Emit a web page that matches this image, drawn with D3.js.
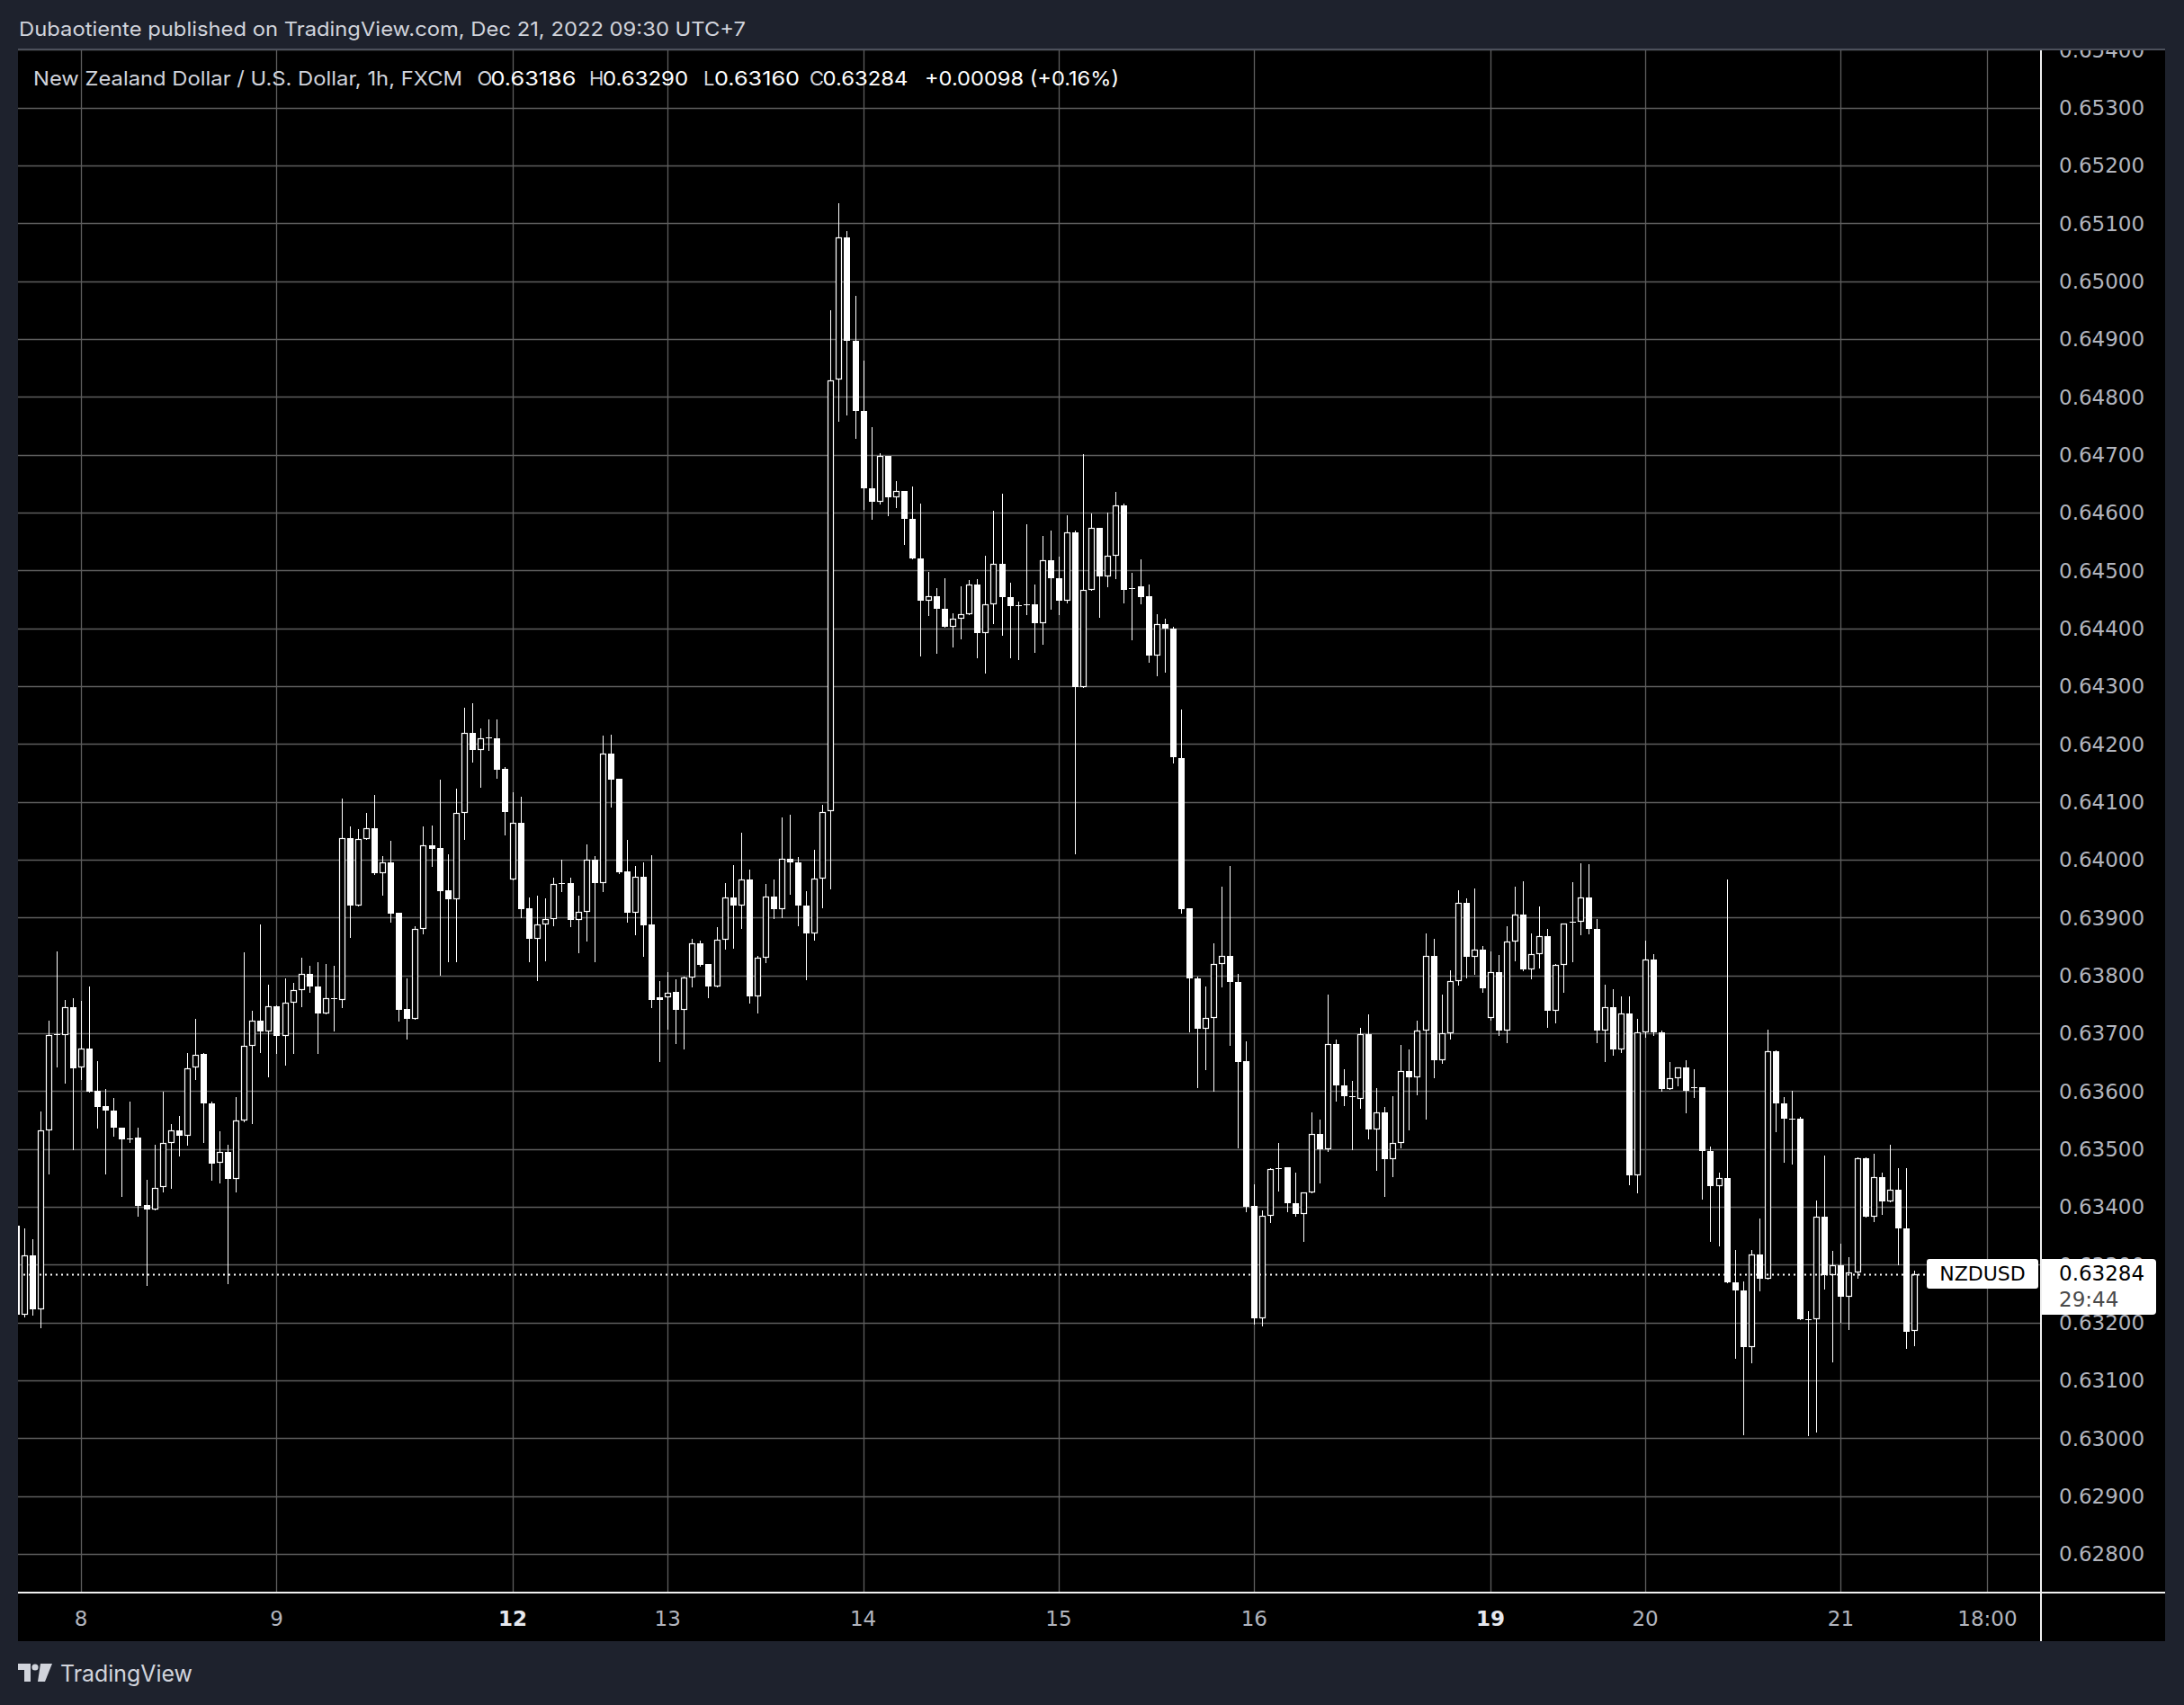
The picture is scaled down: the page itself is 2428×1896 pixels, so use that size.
<!DOCTYPE html>
<html><head><meta charset="utf-8">
<script src="https://cdn.jsdelivr.net/npm/d3@7/dist/d3.min.js"></script>
<style>html,body{margin:0;padding:0;background:#1e222d;}svg{display:block;}</style>
</head><body>
<script>
const openP = [
.63368,.63214,.63316,.63222,.63532,.63697,.63697,.63745,.63641,.63673,
.63600,.63574,.63566,.63536,.63518,.63519,.63403,.63395,.63434,.63511,
.63532,.63523,.63641,.63664,.63579,.63476,.63495,.63448,.63549,.63678,
.63721,.63703,.63746,.63695,.63752,.63775,.63803,.63781,.63734,.63760,
.63758,.64037,.63921,.64036,.64054,.63976,.63996,.63908,.63742,.63724,
.63880,.64024,.64020,.63947,.63932,.64080,.64219,.64189,.64210,.64210,
.64157,.63965,.64063,.63916,.63863,.63888,.63898,.63959,.63960,.63896,
.63909,.64000,.63960,.64184,.64140,.63979,.63908,.63971,.63888,.63762,
.63762,.63771,.63740,.63796,.63856,.63819,.63781,.63861,.63934,.63920,
.63966,.63764,.63830,.63936,.63915,.64002,.63996,.63920,.63872,.63968,
.64084,.64830,.65076,.64897,.64775,.64642,.64619,.64698,.64626,.64638,
.64589,.64520,.64448,.64455,.64434,.64402,.64417,.64425,.64475,.64391,
.64441,.64511,.64454,.64440,.64440,.64441,.64409,.64517,.64487,.64447,
.64566,.64298,.64467,.64574,.64489,.64526,.64613,.64470,.64472,.64455,
.64353,.64407,.64400,.64176,.63916,.63794,.63707,.63727,.63820,.63833,
.63788,.63652,.63402,.63207,.63385,.63465,.63469,.63406,.63388,.63424,
.63526,.63499,.63682,.63610,.63591,.63587,.63699,.63534,.63563,.63483,
.63510,.63634,.63623,.63705,.63834,.63654,.63700,.63790,.63926,.63832,
.63844,.63727,.63806,.63704,.63859,.63905,.63811,.63836,.63867,.63738,
.63818,.63893,.63893,.63935,.63880,.63704,.63745,.63672,.63734,.63455,
.63702,.63828,.63702,.63603,.63622,.63641,.63605,.63607,.63496,.63435,
.63449,.63270,.63256,.63157,.63318,.63276,.63669,.63579,.63552,.63552,
.63206,.63205,.63383,.63281,.63299,.63245,.63287,.63484,.63383,.63451,
.63409,.63429,.63363,.63186];
const highP = [
.63372,.63362,.63344,.63565,.63722,.63841,.63758,.63761,.63756,.63781,
.63652,.63604,.63588,.63536,.63582,.63536,.63446,.63507,.63599,.63543,
.63557,.63665,.63724,.63665,.63582,.63530,.63507,.63590,.63840,.63739,
.63888,.63784,.63748,.63795,.63787,.63831,.63816,.63822,.63819,.63817,
.64105,.64058,.64053,.64081,.64112,.64006,.64032,.63908,.63794,.63885,
.64057,.64059,.64138,.64009,.64122,.64262,.64270,.64227,.64242,.64242,
.64160,.64116,.64109,.63934,.63938,.63933,.63969,.64000,.63969,.63938,
.64027,.64006,.64215,.64216,.64140,.64034,.63989,.63995,.64007,.63790,
.63806,.63793,.63798,.63863,.63860,.63819,.63883,.63959,.63990,.64047,
.63983,.63833,.63958,.63965,.64073,.64077,.64004,.63946,.64017,.64094,
.64950,.65135,.65087,.64974,.64862,.64748,.64703,.64698,.64654,.64638,
.64645,.64616,.64498,.64470,.64487,.64426,.64472,.64484,.64485,.64525,
.64603,.64632,.64478,.64446,.64579,.64475,.64560,.64569,.64523,.64596,
.64569,.64701,.64598,.64574,.64600,.64636,.64616,.64496,.64519,.64475,
.64424,.64417,.64403,.64260,.63916,.63798,.63780,.63855,.63953,.63989,
.63802,.63686,.63439,.63393,.63467,.63510,.63469,.63459,.63424,.63563,
.63550,.63767,.63689,.63638,.63617,.63709,.63732,.63605,.63572,.63591,
.63679,.63672,.63722,.63872,.63863,.63767,.63808,.63947,.63933,.63950,
.63850,.63841,.63835,.63885,.63953,.63963,.63872,.63919,.63880,.63820,
.63890,.63961,.63993,.63992,.63897,.63784,.63776,.63764,.63764,.63724,
.63860,.63836,.63704,.63650,.63641,.63654,.63638,.63607,.63504,.63459,
.63965,.63326,.63271,.63326,.63379,.63706,.63671,.63589,.63601,.63555,
.63220,.63410,.63489,.63323,.63336,.63313,.63486,.63486,.63492,.63459,
.63507,.63467,.63467,.63290];
const lowP = [
.63205,.63210,.63214,.63191,.63458,.63643,.63615,.63500,.63621,.63599,
.63536,.63458,.63523,.63418,.63512,.63384,.63264,.63395,.63426,.63432,
.63489,.63507,.63621,.63512,.63446,.63442,.63267,.63427,.63547,.63545,
.63668,.63625,.63665,.63646,.63665,.63746,.63772,.63665,.63734,.63704,
.63745,.63866,.63921,.64036,.63975,.63940,.63893,.63722,.63690,.63724,
.63872,.63989,.63801,.63824,.63825,.64035,.64170,.64126,.64189,.64142,
.64044,.63965,.63900,.63824,.63792,.63826,.63887,.63945,.63885,.63840,
.63860,.63824,.63945,.64091,.63977,.63893,.63871,.63834,.63745,.63652,
.63708,.63683,.63674,.63781,.63817,.63762,.63780,.63846,.63848,.63881,
.63752,.63735,.63822,.63899,.63901,.63941,.63886,.63793,.63861,.63918,
.63950,.64758,.64770,.64729,.64606,.64589,.64616,.64596,.64609,.64545,
.64520,.64352,.64422,.64358,.64402,.64369,.64383,.64425,.64349,.64323,
.64409,.64388,.64350,.64347,.64425,.64359,.64373,.64434,.64424,.64445,
.64010,.64298,.64467,.64419,.64473,.64486,.64445,.64380,.64443,.64342,
.64319,.64325,.64168,.63908,.63703,.63607,.63638,.63601,.63780,.63679,
.63503,.63392,.63198,.63194,.63373,.63428,.63392,.63384,.63341,.63424,
.63442,.63497,.63583,.63576,.63499,.63571,.63518,.63463,.63418,.63453,
.63502,.63533,.63594,.63552,.63624,.63648,.63690,.63784,.63797,.63803,
.63771,.63723,.63696,.63684,.63826,.63809,.63795,.63814,.63711,.63718,
.63771,.63824,.63871,.63872,.63684,.63651,.63662,.63667,.63438,.63424,
.63693,.63697,.63600,.63603,.63609,.63563,.63589,.63414,.63341,.63333,
.63270,.63138,.63006,.63131,.63256,.63276,.63530,.63477,.63474,.63205,
.63005,.63011,.63258,.63133,.63201,.63188,.63277,.63383,.63375,.63387,
.63409,.63300,.63156,.63160];
const closeP = [
.63214,.63316,.63222,.63532,.63697,.63699,.63745,.63640,.63673,.63599,
.63573,.63566,.63536,.63517,.63517,.63402,.63395,.63433,.63511,.63532,
.63522,.63640,.63663,.63578,.63475,.63494,.63448,.63549,.63678,.63721,
.63703,.63746,.63695,.63752,.63775,.63803,.63780,.63734,.63761,.63759,
.64037,.63921,.64036,.64054,.63976,.63996,.63906,.63741,.63724,.63880,
.64024,.64019,.63946,.63932,.64080,.64219,.64189,.64210,.64211,.64156,
.64083,.64063,.63915,.63863,.63888,.63898,.63958,.63960,.63896,.63909,
.64000,.63960,.64184,.64139,.63978,.63908,.63971,.63887,.63758,.63758,
.63770,.63740,.63796,.63856,.63818,.63781,.63861,.63934,.63920,.63966,
.63764,.63830,.63936,.63915,.64002,.63996,.63920,.63872,.63968,.64083,
.64828,.65076,.64897,.64775,.64642,.64619,.64698,.64626,.64638,.64589,
.64520,.64448,.64455,.64434,.64402,.64417,.64425,.64476,.64391,.64441,
.64511,.64454,.64439,.64438,.64441,.64409,.64517,.64487,.64447,.64566,
.64298,.64467,.64574,.64489,.64526,.64613,.64467,.64468,.64454,.64353,
.64407,.64400,.64177,.63915,.63794,.63707,.63727,.63820,.63833,.63788,
.63650,.63400,.63207,.63385,.63465,.63467,.63406,.63388,.63424,.63526,
.63499,.63682,.63610,.63591,.63590,.63699,.63534,.63563,.63483,.63510,
.63634,.63623,.63705,.63834,.63654,.63700,.63790,.63926,.63832,.63844,
.63777,.63806,.63704,.63859,.63905,.63811,.63836,.63867,.63738,.63818,
.63890,.63893,.63935,.63880,.63704,.63745,.63672,.63734,.63455,.63702,
.63828,.63702,.63603,.63622,.63641,.63600,.63606,.63496,.63435,.63449,
.63270,.63256,.63157,.63318,.63276,.63669,.63578,.63552,.63551,.63206,
.63205,.63383,.63281,.63299,.63245,.63287,.63484,.63383,.63451,.63409,
.63429,.63363,.63184,.63284];

const priceTicks = [0.628,0.629,0.630,0.631,0.632,0.633,0.634,0.635,0.636,0.637,0.638,0.639,0.640,
  0.641,0.642,0.643,0.644,0.645,0.646,0.647,0.648,0.649,0.650,0.651,0.652,0.653,0.654];
const priceTickLabels = ["0.62800","0.62900","0.63000","0.63100","0.63200","0.63300","0.63400","0.63500",
  "0.63600","0.63700","0.63800","0.63900","0.64000","0.64100","0.64200","0.64300","0.64400","0.64500",
  "0.64600","0.64700","0.64800","0.64900","0.65000","0.65100","0.65200","0.65300","0.65400"];
const timeTickBar = [8,32,61,80,104,128,152,181,200,224,242];
const timeTickLabels = ["8","9","12","13","14","15","16","19","20","21","18:00"];
const timeTickBold = [false,false,true,false,false,false,false,true,false,false,false];

const headerText = "Dubaotiente published on TradingView.com, Dec 21, 2022 09:30 UTC+7";
const symbolText = "New Zealand Dollar / U.S. Dollar, 1h, FXCM";
const ohlcLetters = ["O","H","L","C"];
const ohlcValues = ["0.63186","0.63290","0.63160","0.63284"];
const changeText = "+0.00098 (+0.16%)";
const lastPrice = 0.63284;
const lastPriceText = "0.63284";
const countdownText = "29:44";
const symbolName = "NZDUSD";

const W = 2428, H = 1896;
const paneL = 20, paneR = 2268, paneT = 56, axisY = 1770, panelR = 2407, panelB = 1825;
const FONT = "'DejaVu Sans', sans-serif";
const UIFONT = "Inter, 'Noto Sans', sans-serif";

const svg = d3.select("body").append("svg").attr("width", W).attr("height", H)
  .attr("viewBox", `0 0 ${W} ${H}`);

svg.append("rect").attr("width", W).attr("height", H).attr("fill", "#1e222d");
svg.append("rect").attr("x", paneL).attr("y", paneT).attr("width", panelR - paneL).attr("height", panelB - paneT).attr("fill", "#000");
svg.append("rect").attr("x", paneL).attr("y", paneT - 2).attr("width", panelR - paneL).attr("height", 2).attr("fill", "#4c505b");

const x = d3.scaleLinear().domain([0, 242]).range([17.64, 17.64 + 242 * 9.057]);
const y = d3.scaleLinear().domain([0.628, 0.654]).range([1727.9, 55.3]);

const defs = svg.append("defs");
defs.append("clipPath").attr("id", "pane").append("rect")
  .attr("x", paneL).attr("y", paneT).attr("width", paneR - paneL).attr("height", axisY - paneT);
defs.append("clipPath").attr("id", "paxis").append("rect")
  .attr("x", paneR).attr("y", paneT).attr("width", panelR - paneR).attr("height", axisY - paneT);

const pane = svg.append("g").attr("clip-path", "url(#pane)");
const gridColor = "#5e5e5e";
pane.append("g").selectAll("line").data(priceTicks).join("line")
  .attr("x1", paneL).attr("x2", paneR)
  .attr("y1", d => Math.round(y(d)) + 0.5).attr("y2", d => Math.round(y(d)) + 0.5)
  .attr("stroke", gridColor).attr("stroke-width", 1.3);
pane.append("g").selectAll("line").data(timeTickBar).join("line")
  .attr("x1", d => Math.round(x(d)) + 0.5).attr("x2", d => Math.round(x(d)) + 0.5)
  .attr("y1", paneT).attr("y2", axisY)
  .attr("stroke", gridColor).attr("stroke-width", 1.3);

// last price dotted line
const ly = Math.round(y(lastPrice)) + 0.5;
svg.append("line").attr("x1", paneL).attr("x2", 2142).attr("y1", ly).attr("y2", ly)
  .attr("stroke", "#fff").attr("stroke-width", 2).attr("stroke-dasharray", "2,4");

// candles
const bars = d3.range(openP.length).map(i => ({i, o: openP[i], h: highP[i], l: lowP[i], c: closeP[i]}));
const cg = pane.append("g").selectAll("g").data(bars).join("g");
cg.append("line")
  .attr("x1", d => Math.round(x(d.i)) + 0.5).attr("x2", d => Math.round(x(d.i)) + 0.5)
  .attr("y1", d => Math.round(y(d.h))).attr("y2", d => Math.round(y(d.l)) + 1)
  .attr("stroke", "#fff").attr("stroke-width", 1);
cg.each(function(d) {
  const g = d3.select(this);
  const cx = Math.round(x(d.i));
  let yt = Math.round(y(Math.max(d.o, d.c)));
  let yb = Math.round(y(Math.min(d.o, d.c)));
  if (yb - yt < 1) yb = yt + 1;
  if (d.c > d.o && yb - yt >= 3) {
    g.append("rect").attr("x", cx - 2.5).attr("y", yt + 0.5).attr("width", 6).attr("height", yb - yt - 1)
      .attr("fill", "#000").attr("stroke", "#fff").attr("stroke-width", 1.2);
  } else {
    g.append("rect").attr("x", cx - 3).attr("y", yt).attr("width", 7).attr("height", yb - yt)
      .attr("fill", "#fff");
  }
});

// separators
svg.append("rect").attr("x", paneR).attr("y", paneT).attr("width", 2).attr("height", panelB - paneT).attr("fill", "#f0f0f0");
svg.append("rect").attr("x", paneL).attr("y", axisY).attr("width", panelR - paneL).attr("height", 2).attr("fill", "#f0f0f0");

// price axis labels
const pax = svg.append("g").attr("clip-path", "url(#paxis)");
pax.selectAll("text").data(priceTicks).join("text")
  .attr("x", 2289).attr("y", d => y(d)).attr("dy", "0.36em")
  .attr("font-family", FONT).attr("font-size", 23).attr("fill", "#b2b5be")
  .text((d, i) => priceTickLabels[i]);

// time axis labels
svg.append("g").selectAll("text").data(timeTickBar).join("text")
  .attr("x", d => x(d)).attr("y", 1800).attr("dy", "0.36em").attr("text-anchor", "middle")
  .attr("font-family", FONT).attr("font-size", 23)
  .attr("font-weight", (d, i) => timeTickBold[i] ? "bold" : "normal")
  .attr("fill", (d, i) => timeTickBold[i] ? "#e6e8ee" : "#b2b5be")
  .text((d, i) => timeTickLabels[i]);

// symbol label and price box
svg.append("rect").attr("x", 2142).attr("y", 1400).attr("width", 124).attr("height", 33).attr("rx", 3).attr("fill", "#fff");
svg.append("text").attr("x", 2204).attr("y", 1416.5).attr("dy", "0.36em").attr("text-anchor", "middle")
  .attr("font-family", FONT).attr("font-size", 22).attr("fill", "#000").text(symbolName);
svg.append("path").attr("d", "M2270,1400 H2393 Q2397,1400 2397,1404 V1458 Q2397,1462 2393,1462 H2270 Z").attr("fill", "#fff");
svg.append("text").attr("x", 2289).attr("y", 1416).attr("dy", "0.36em")
  .attr("font-family", FONT).attr("font-size", 23).attr("fill", "#000").text(lastPriceText);
svg.append("text").attr("x", 2289).attr("y", 1445).attr("dy", "0.36em")
  .attr("font-family", FONT).attr("font-size", 23).attr("fill", "#4a4a4a").text(countdownText);

// header
svg.append("text").attr("x", 21).attr("y", 32).attr("dy", "0.36em")
  .attr("font-family", UIFONT).attr("font-size", 22).attr("fill", "#d1d4dc")
  .attr("textLength", 808).attr("lengthAdjust", "spacingAndGlyphs").text(headerText);

// legend
const legY = 87;
svg.append("text").attr("x", 37).attr("y", legY).attr("dy", "0.36em")
  .attr("font-family", UIFONT).attr("font-size", 22).attr("fill", "#d1d4dc")
  .attr("textLength", 477).attr("lengthAdjust", "spacingAndGlyphs").text(symbolText);
const letterX = [530.5, 655, 782, 900];
const valueX = [545.5, 670, 794, 914.5];
ohlcLetters.forEach((t, k) => {
  svg.append("text").attr("x", letterX[k]).attr("y", legY).attr("dy", "0.36em")
    .attr("font-family", UIFONT).attr("font-size", 22).attr("fill", "#d1d4dc").text(t);
  svg.append("text").attr("x", valueX[k]).attr("y", legY).attr("dy", "0.36em")
    .attr("font-family", UIFONT).attr("font-size", 22).attr("fill", "#ffffff")
    .attr("textLength", 95).attr("lengthAdjust", "spacingAndGlyphs").text(ohlcValues[k]);
});
svg.append("text").attr("x", 1028).attr("y", legY).attr("dy", "0.36em")
  .attr("font-family", UIFONT).attr("font-size", 22).attr("fill", "#ffffff")
  .attr("textLength", 216).attr("lengthAdjust", "spacingAndGlyphs").text(changeText);

// TradingView logo
const logo = svg.append("g").attr("fill", "#d1d4dc");
logo.append("path").attr("d", "M20,1850 H34 V1870 H27 V1857 H20 Z");
logo.append("circle").attr("cx", 39).attr("cy", 1854).attr("r", 3.6);
logo.append("path").attr("d", "M45,1850 H58 L50,1870 H42 Z");
logo.append("text").attr("x", 67).attr("y", 1861).attr("dy", "0.36em")
  .attr("font-family", UIFONT).attr("font-size", 25).attr("fill", "#d1d4dc")
  .attr("textLength", 147).attr("lengthAdjust", "spacingAndGlyphs").text("TradingView");
</script>
</body></html>
